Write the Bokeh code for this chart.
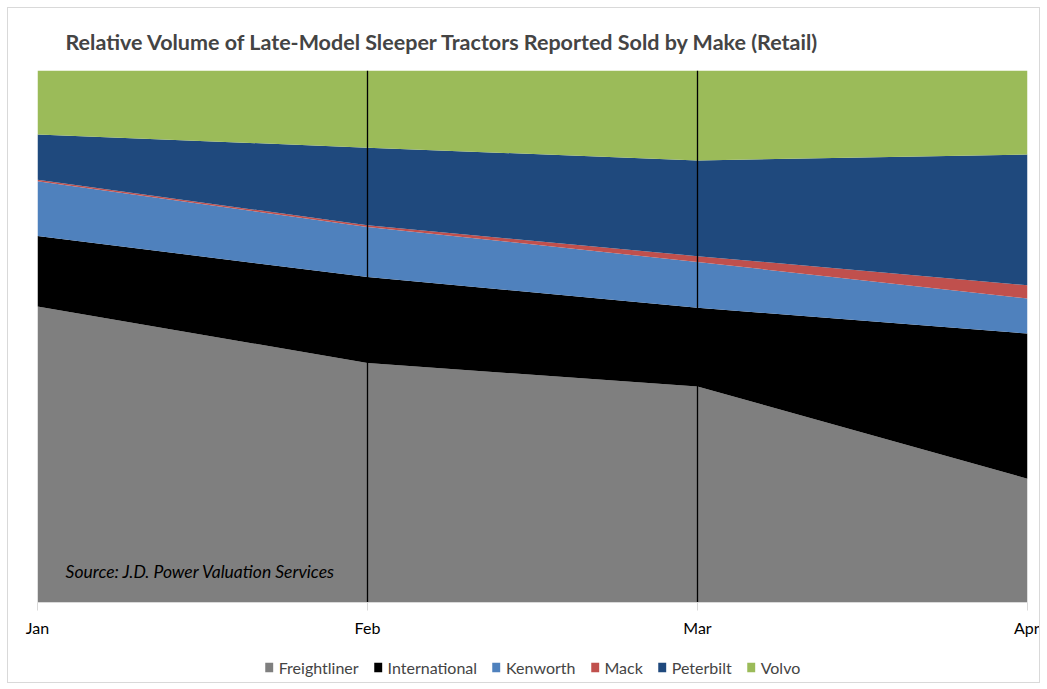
from bokeh.plotting import figure
from bokeh.models import ColumnDataSource, Legend, LegendItem, Label, FixedTicker, Range1d
from bokeh.layouts import column
from bokeh.embed import file_html
from bokeh.resources import INLINE

months = ["Jan", "Feb", "Mar", "Apr"]
makes = ["Freightliner", "International", "Kenworth", "Mack", "Peterbilt", "Volvo"]
freightliner = [55.6, 45.0, 40.6, 23.3]
international = [13.2, 16.2, 14.8, 27.3]
kenworth = [10.3, 9.4, 8.6, 6.6]
mack = [0.3, 0.3, 1.1, 2.5]
peterbilt = [8.5, 14.6, 18.0, 24.6]
volvo = [12.0, 14.5, 16.9, 15.8]
colors = ["#7f7f7f", "#000000", "#4f81bd", "#c0504d", "#1f497d", "#9bbb59"]

series = [freightliner, international, kenworth, mack, peterbilt, volvo]
xs = list(range(len(months)))
totals = [sum(s[i] for s in series) for i in xs]
data = {"x": xs}
for name, s in zip(makes, series):
    data[name] = [v / t for v, t in zip(s, totals)]
src = ColumnDataSource(data)

FONT = "Lato"

p = figure(frame_width=990, frame_height=532,
           output_backend="svg", toolbar_location=None,
           x_range=Range1d(0, len(months) - 1), y_range=Range1d(0, 1),
           min_border_left=29, min_border_right=12, min_border_top=62, min_border_bottom=50,
           background_fill_color="white", border_fill_color="white")
p.outline_line_color = None
p.grid.visible = False
p.yaxis.visible = False

renderers = p.varea_stack(stackers=makes, x="x", color=colors, source=src)

# vertical grid lines at interior months
p.segment(x0=xs[1:-1], y0=[0] * (len(xs) - 2), x1=xs[1:-1], y1=[1] * (len(xs) - 2),
          line_color="black", line_width=1.3)

ax = p.xaxis[0]
ax.ticker = FixedTicker(ticks=xs)
ax.major_label_overrides = {i: m for i, m in enumerate(months)}
ax.axis_line_color = "#d9d9d9"
ax.major_tick_line_color = "#d9d9d9"
ax.major_tick_out = 8
ax.major_tick_in = 0
ax.minor_tick_line_color = None
ax.major_label_text_font = FONT
ax.major_label_text_font_size = "16px"
ax.major_label_text_color = "#000000"
ax.major_label_standoff = 7

p.title.text = "Relative Volume of Late-Model Sleeper Tractors Reported Sold by Make (Retail)"
p.title.text_font = FONT
p.title.text_font_size = "21.5px"
p.title.text_font_style = "bold"
p.title.align = "left"
p.title.offset = 28
p.title.standoff = 32

src_label = Label(x=0.085, y=0.058, text="Source: J.D. Power Valuation Services",
                  text_font=FONT, text_font_style="italic", text_font_size="17.5px",
                  text_color="#000000", text_baseline="middle")
p.add_layout(src_label)

# legend strip: same stacked series, drawn out of view, only their legend shows
p2 = figure(width=1031, height=30, output_backend="svg", toolbar_location=None,
            x_range=Range1d(0, len(months) - 1), y_range=Range1d(10, 11),
            min_border=0, background_fill_color="white", border_fill_color="white")
p2.outline_line_color = None
p2.grid.visible = False
p2.axis.visible = False
r2 = p2.varea_stack(stackers=makes, x="x", color=colors, source=src)
legend = Legend(items=[LegendItem(label=m, renderers=[r]) for m, r in zip(makes, r2)],
                orientation="horizontal", location="center",
                label_text_font=FONT, label_text_font_size="16px", label_height=20,
                glyph_width=10, glyph_height=12, spacing=14, label_standoff=5,
                border_line_color=None, background_fill_alpha=0, margin=0, padding=0)
p2.add_layout(legend, "center")

layout = column(p, p2, spacing=0)
layout.styles = {"border": "1px solid #d9d9d9", "margin-left": "7px", "margin-top": "7px"}

open("out.html", "w").write(file_html(layout, INLINE))
